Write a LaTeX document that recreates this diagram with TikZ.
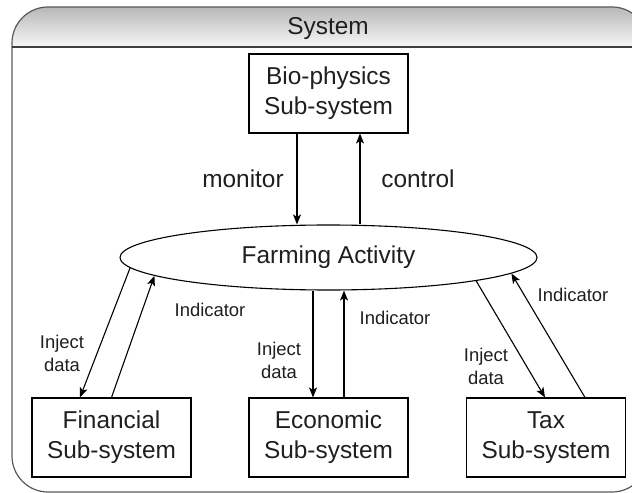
\documentclass[tikz,border=0pt]{standalone}
\usepackage{fontspec}
\setmainfont{Liberation Sans}
\usetikzlibrary{arrows.meta,shapes.geometric}

\tikzset{
  bigtxt/.style={font=\fontsize{24.5}{30}\selectfont, text=black!88, align=center},
  lab/.style={font=\fontsize{18.5}{23}\selectfont, text=black!88, align=center},
  box/.style={draw, line width=1.1bp, minimum width=159bp, minimum height=79bp, bigtxt},
  flow/.style={-{Stealth[length=10bp,width=8bp,inset=2.5bp]}, line width=1.1bp},
}

\begin{document}
\begin{tikzpicture}[x=1bp, y=-1bp]
\useasboundingbox (0,0) rectangle (632,493);
\clip (0,0) rectangle (632,493);

% outer frame and title bar
\begin{scope}
\clip [rounded corners=36bp] (12,7) rectangle (648,492);
\shade [top color=black!28, bottom color=black!3] (12,7) rectangle (648,47);
\end{scope}
\draw [black!65, line width=1.2bp, rounded corners=36bp] (12,7) rectangle (648,492);
\draw [black!75, line width=1.2bp] (12,47) -- (648,47);
\node (title) at (328,28.5) [bigtxt] {System};

% sub-systems
\node (bio) at (328.5,93.5) [box] {Bio-physics\\Sub-system};
\node (fin) at (111.5,437.5) [box] {Financial\\Sub-system};
\node (eco) at (328.5,437.5) [box] {Economic\\Sub-system};
\node (tax) at (546,437.5) [box] {Tax\\Sub-system};

\node (farm) at (328.5,257.5) [ellipse, draw, line width=1.1bp, minimum width=417bp, minimum height=65bp, inner sep=0pt, bigtxt] {Farming Activity};

% bio-physics
\draw [flow] (bio.south) ++(-31.5,0) coordinate (mon) -- (mon |- farm.north);
\draw [flow] (farm.north) ++(31.5,0) coordinate (ctl) -- (ctl |- bio.south);
\node (monlab) at (243,179) [bigtxt] {monitor};
\node (ctllab) at (418,179) [bigtxt] {control};

% financial
\draw [flow] (farm.183.5) -- ([xshift=-31.5bp]fin.north);
\draw [flow] (fin.north) -- (farm.186.5);
\node (finin) at (62,353) [lab] {Inject\\data};
\node (finind) at (210,310) [lab] {Indicator};

% economic
\draw [flow] (farm.south) ++(-15.5,0) coordinate (ecoin) -- (ecoin |- eco.north);
\draw [flow] (eco.north) ++(15.5,0) coordinate (ecoout) -- (ecoout |- farm.south);
\node (ecoinlab) at (279,360) [lab] {Inject\\data};
\node (ecoind) at (395,318) [lab] {Indicator};

% tax
\draw [flow] (farm.351) -- ([xshift=-1bp]tax.north);
\draw [flow] ([xshift=39bp]tax.north) -- (farm.355.8);
\node (taxin) at (486,366) [lab] {Inject\\data};
\node (taxind) at (573,295) [lab] {Indicator};

\end{tikzpicture}
\end{document}
